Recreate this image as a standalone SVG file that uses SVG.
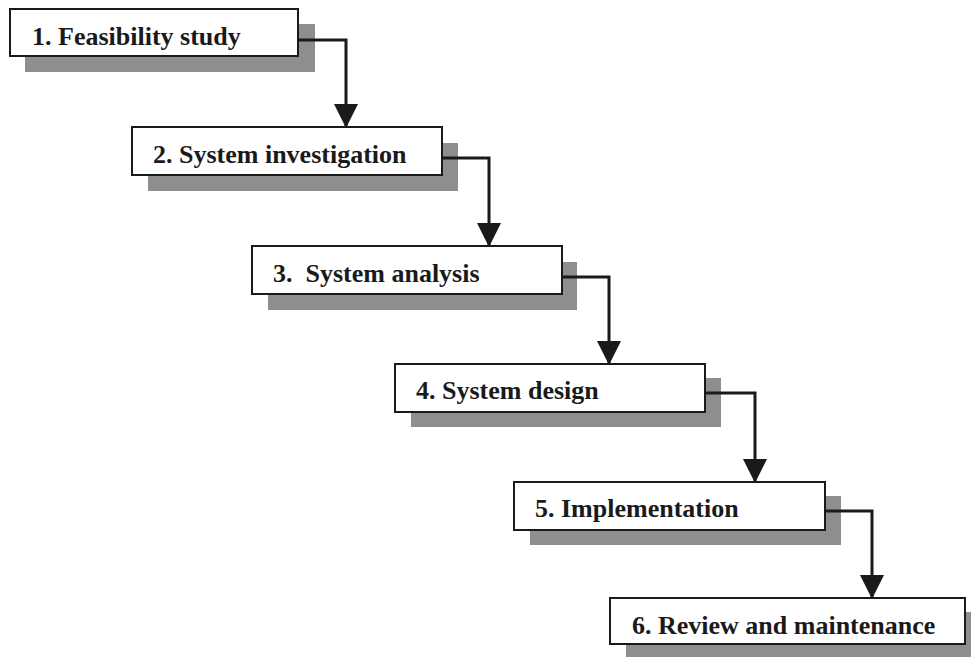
<svg xmlns="http://www.w3.org/2000/svg" width="971" height="657" viewBox="0 0 971 657">
  <style>
    .shadow { fill: #8e8e8e; }
    .box { fill: #ffffff; stroke: #1a1a1a; stroke-width: 2; }
    .label { font-family: "Liberation Serif", "Times New Roman", serif; font-weight: bold; font-size: 26px; fill: #1a1a1a; }
    .conn { fill: none; stroke: #1a1a1a; stroke-width: 3; }
  </style>
  <defs>
    <marker id="arrow" markerUnits="userSpaceOnUse" markerWidth="26" markerHeight="26" viewBox="0 0 26 26" refX="13" refY="24" orient="0">
      <path d="M1,1 L25,1 L13,25 Z" fill="#1a1a1a"/>
    </marker>
  </defs>
  <rect width="971" height="657" fill="#ffffff"/>

  <g id="step1">
    <rect class="shadow" x="25" y="24" width="290" height="48"/>
    <rect class="box" x="10" y="9" width="288" height="47"/>
    <text class="label" x="32" y="45">1. Feasibility study</text>
  </g>
  <g id="step2">
    <rect class="shadow" x="148" y="143" width="310" height="48"/>
    <rect class="box" x="132" y="127" width="310" height="48"/>
    <text class="label" x="153" y="163">2. System investigation</text>
  </g>
  <g id="step3">
    <rect class="shadow" x="268" y="262" width="309" height="48"/>
    <rect class="box" x="252" y="246" width="310" height="48"/>
    <text class="label" x="273" y="282" xml:space="preserve">3.  System analysis</text>
  </g>
  <g id="step4">
    <rect class="shadow" x="411" y="378" width="310" height="49"/>
    <rect class="box" x="395" y="364" width="310" height="48"/>
    <text class="label" x="416" y="399">4. System design</text>
  </g>
  <g id="step5">
    <rect class="shadow" x="530" y="496" width="311" height="49"/>
    <rect class="box" x="514" y="482" width="311" height="48"/>
    <text class="label" x="535" y="517">5. Implementation</text>
  </g>
  <g id="step6">
    <rect class="shadow" x="626" y="612" width="360" height="50"/>
    <rect class="box" x="610" y="598" width="355" height="46"/>
    <text class="label" x="632" y="634">6. Review and maintenance</text>
  </g>

  <g id="connectors">
    <path class="conn" d="M298,40 H346 V127" marker-end="url(#arrow)"/>
    <path class="conn" d="M442,158 H489 V246" marker-end="url(#arrow)"/>
    <path class="conn" d="M562,277 H609 V364" marker-end="url(#arrow)"/>
    <path class="conn" d="M705,393 H755 V482" marker-end="url(#arrow)"/>
    <path class="conn" d="M825,511 H872 V598" marker-end="url(#arrow)"/>
  </g>
</svg>
